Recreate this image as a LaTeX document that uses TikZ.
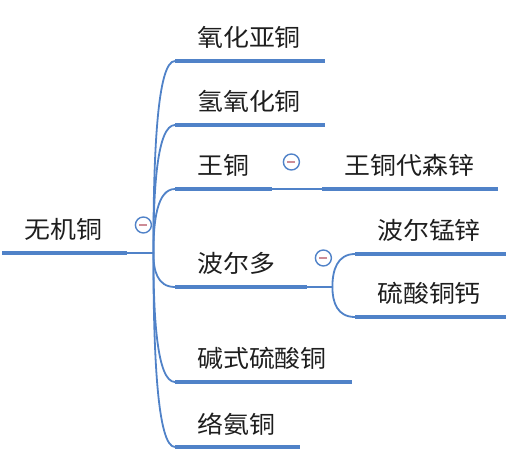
\documentclass[tikz,border=0pt]{standalone}
\usepackage{fontspec}
\newfontfamily\cjk[FakeStretch=1.08]{Noto Sans CJK SC}
\usepackage{tikz}
\usetikzlibrary{calc}
\definecolor{mapblue}{RGB}{80,130,200}
\definecolor{foldmark}{RGB}{205,140,150}
\definecolor{topictext}{RGB}{30,30,30}
\tikzset{%
  % Specifications for style of nodes:
  topic/.style = {rectangle, anchor=south west,
    inner xsep=22pt, inner ysep=0pt,
    minimum height=46pt,
    text width=#1, align=left,
    text=topictext, font=\cjk\fontsize{24}{24}\selectfont},
  underline/.style = {draw=mapblue, line width=4.5pt},
  link/.style = {draw=mapblue, line width=1.6pt},
  branch/.style = {draw=mapblue, line width=1.8pt},
  fold/.style = {circle, draw=mapblue, line width=1.4pt, fill=white,
    minimum size=16pt, inner sep=0pt,
    path picture={\draw[foldmark, line width=1.6pt]
      ([xshift=-4pt]path picture bounding box.center) --
      ([xshift=4pt]path picture bounding box.center);}},
}

\begin{document}
\begin{tikzpicture}[x=1pt, y=-1pt]
    \useasboundingbox (0,0) rectangle (519,462);
    % Specification of nodes (position, etc.)
    \node(root)[topic=81pt] at (2,253) {无机铜};
    \node(cuprous)[topic=106pt] at (175,61) {氧化亚铜};
    \node(hydroxide)[topic=106pt] at (175,125) {氢氧化铜};
    \node(wangtong)[topic=53pt] at (175,189) {王铜};
    \node(mancozeb)[topic=131pt] at ($(wangtong.south east)+(50,0)$) {王铜代森锌};
    \node(bordeaux)[topic=88pt] at (175,287) {波尔多};
    \node(bmz)[topic=107pt] at (355,254) {波尔锰锌};
    \node(calcium)[topic=107pt] at (355,317) {硫酸铜钙};
    \node(basic)[topic=133pt] at (175,382) {碱式硫酸铜};
    \node(ammine)[topic=81pt] at (175,447) {络氨铜};
    \coordinate(rootjoint) at ($(root.south east)+(26,0)$);
    \coordinate(bdjoint) at ($(bordeaux.south east)+(25,0)$);
    % underlines
    \draw[underline](root.south west) -- (root.south east);
    \draw[underline](cuprous.south west) -- (cuprous.south east);
    \draw[underline](hydroxide.south west) -- (hydroxide.south east);
    \draw[underline](wangtong.south west) -- (wangtong.south east);
    \draw[underline](mancozeb.south west) -- (mancozeb.south east);
    \draw[underline](bordeaux.south west) -- (bordeaux.south east);
    \draw[underline](bmz.south west) -- (bmz.south east);
    \draw[underline](calcium.south west) -- (calcium.south east);
    \draw[underline](basic.south west) -- (basic.south east);
    \draw[underline](ammine.south west) -- (ammine.south east);
    % connectors
    \draw[link](root.south east) -- (rootjoint);
    \draw[link](wangtong.south east) -- (mancozeb.south west);
    \draw[link](bordeaux.south east) -- (bdjoint);
    \draw[branch](rootjoint) .. controls ($(rootjoint)!0.5!(rootjoint |- cuprous.south west)$) and +(-18,0) .. (cuprous.south west);
    \draw[branch](rootjoint) .. controls ($(rootjoint)!0.5!(rootjoint |- hydroxide.south west)$) and +(-18,0) .. (hydroxide.south west);
    \draw[branch](rootjoint) .. controls ($(rootjoint)!0.5!(rootjoint |- wangtong.south west)$) and +(-18,0) .. (wangtong.south west);
    \draw[branch](rootjoint) .. controls ($(rootjoint)!0.5!(rootjoint |- bordeaux.south west)$) and +(-18,0) .. (bordeaux.south west);
    \draw[branch](rootjoint) .. controls ($(rootjoint)!0.5!(rootjoint |- basic.south west)$) and +(-18,0) .. (basic.south west);
    \draw[branch](rootjoint) .. controls ($(rootjoint)!0.5!(rootjoint |- ammine.south west)$) and +(-18,0) .. (ammine.south west);
    \draw[branch](bdjoint) .. controls ($(bdjoint)!0.5!(bdjoint |- bmz.south west)$) and +(-18,0) .. (bmz.south west);
    \draw[branch](bdjoint) .. controls ($(bdjoint)!0.5!(bdjoint |- calcium.south west)$) and +(-18,0) .. (calcium.south west);
    % collapse markers
    \node(rootfold)[fold] at ($(root.south east)+(16,-28)$) {};
    \node(wangfold)[fold] at ($(wangtong.south east)+(19,-27)$) {};
    \node(bdfold)[fold] at ($(bordeaux.south east)+(16,-29)$) {};
\end{tikzpicture}
\end{document}
